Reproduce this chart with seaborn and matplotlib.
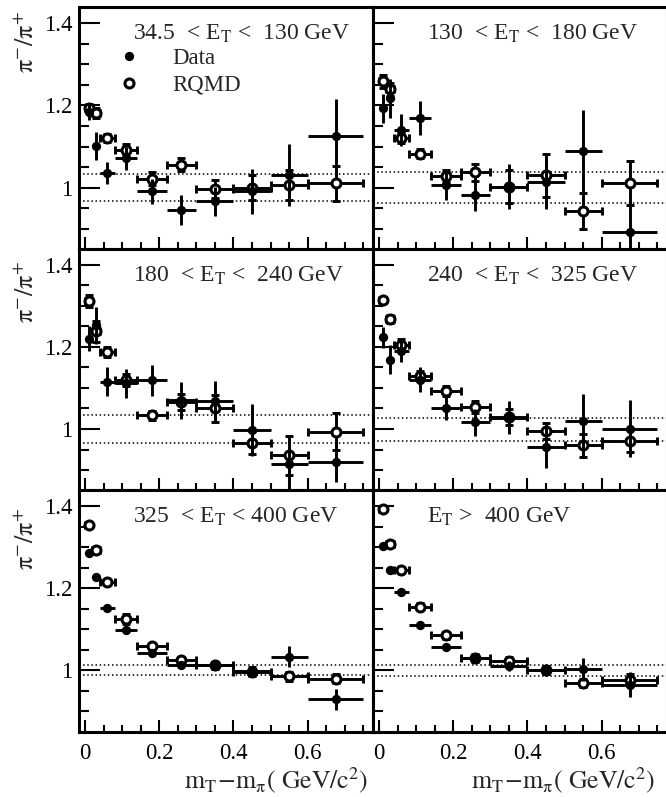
import numpy as np
import pandas as pd
import seaborn as sns
import matplotlib
matplotlib.use("Agg")
import matplotlib.pyplot as plt
from matplotlib.ticker import MultipleLocator, FixedLocator, FixedFormatter
from matplotlib.lines import Line2D

# m_T - m_pi bins (GeV/c^2)
bin_edges = [0.0, 0.02, 0.04, 0.08, 0.14, 0.22, 0.30, 0.40, 0.50, 0.60, 0.75]

panel_titles = [
    r"34.5  < E$_{\mathrm{T}}$ <  130 GeV",
    r"130  < E$_{\mathrm{T}}$ <  180 GeV",
    r"180  < E$_{\mathrm{T}}$ <  240 GeV",
    r"240  < E$_{\mathrm{T}}$ <  325 GeV",
    r"325  < E$_{\mathrm{T}}$ < 400 GeV",
    r"E$_{\mathrm{T}}$ >  400 GeV",
]

# pi-/pi+ ratio, measured
data_y_1 = [1.185, 1.101, 1.036, 1.071, 0.991, 0.945, 0.967, 0.991, 1.030, 1.125]
data_e_1 = [0.020, 0.034, 0.027, 0.028, 0.030, 0.036, 0.035, 0.055, 0.075, 0.090]
data_y_2 = [1.193, 1.217, 1.140, 1.170, 1.007, 0.983, 1.002, 1.014, 1.089, 0.892]
data_e_2 = [0.035, 0.047, 0.039, 0.041, 0.037, 0.040, 0.055, 0.067, 0.100, 0.080]
data_y_3 = [1.220, 1.253, 1.115, 1.111, 1.119, 1.070, 1.068, 0.997, 0.915, 0.920]
data_e_3 = [0.030, 0.045, 0.035, 0.035, 0.038, 0.045, 0.050, 0.063, 0.070, 0.050]
data_y_4 = [1.223, 1.169, 1.190, 1.120, 1.051, 1.016, 1.027, 0.955, 1.019, 1.001]
data_e_4 = [0.025, 0.035, 0.028, 0.030, 0.028, 0.033, 0.040, 0.050, 0.067, 0.070]
data_y_5 = [1.285, 1.227, 1.152, 1.099, 1.042, 1.012, 1.014, 0.998, 1.033, 0.929]
data_e_5 = [0.006, 0.006, 0.006, 0.008, 0.010, 0.008, 0.010, 0.012, 0.025, 0.025]
data_y_6 = [1.302, 1.244, 1.190, 1.111, 1.057, 1.030, 1.011, 1.000, 1.002, 0.965]
data_e_6 = [0.005, 0.008, 0.008, 0.008, 0.008, 0.010, 0.012, 0.015, 0.027, 0.030]

# pi-/pi+ ratio, RQMD model
rqmd_y_1 = [1.193, 1.182, 1.121, 1.091, 1.022, 1.056, 0.996, 1.000, 1.007, 1.010]
rqmd_e_1 = [0.010, 0.012, 0.010, 0.015, 0.015, 0.015, 0.022, 0.030, 0.037, 0.043]
rqmd_y_2 = [1.259, 1.239, 1.120, 1.083, 1.028, 1.037, 1.002, 1.030, 0.943, 1.011]
rqmd_e_2 = [0.016, 0.016, 0.012, 0.012, 0.015, 0.020, 0.040, 0.053, 0.044, 0.054]
rqmd_y_3 = [1.312, 1.238, 1.188, 1.119, 1.033, 1.066, 1.050, 0.967, 0.936, 0.993]
rqmd_e_3 = [0.015, 0.025, 0.012, 0.015, 0.012, 0.020, 0.033, 0.028, 0.047, 0.045]
rqmd_y_4 = [1.314, 1.267, 1.204, 1.129, 1.093, 1.054, 1.029, 0.995, 0.960, 0.971]
rqmd_e_4 = [0.006, 0.010, 0.015, 0.012, 0.012, 0.015, 0.020, 0.020, 0.028, 0.028]
rqmd_y_5 = [1.354, 1.294, 1.215, 1.124, 1.059, 1.024, 1.012, 0.997, 0.985, 0.980]
rqmd_e_5 = [0.005, 0.006, 0.008, 0.012, 0.008, 0.008, 0.008, 0.010, 0.010, 0.010]
rqmd_y_6 = [1.392, 1.307, 1.244, 1.155, 1.085, 1.030, 1.022, 1.000, 0.969, 0.977]
rqmd_e_6 = [0.005, 0.006, 0.008, 0.008, 0.008, 0.010, 0.010, 0.010, 0.010, 0.015]

# half-width of the systematic band around 1
syst_band = [0.032, 0.037, 0.033, 0.028, 0.012, 0.013]

data_y = [data_y_1, data_y_2, data_y_3, data_y_4, data_y_5, data_y_6]
data_e = [data_e_1, data_e_2, data_e_3, data_e_4, data_e_5, data_e_6]
rqmd_y = [rqmd_y_1, rqmd_y_2, rqmd_y_3, rqmd_y_4, rqmd_y_5, rqmd_y_6]
rqmd_e = [rqmd_e_1, rqmd_e_2, rqmd_e_3, rqmd_e_4, rqmd_e_5, rqmd_e_6]

edges = np.array(bin_edges)
x_mid = 0.5 * (edges[:-1] + edges[1:])
x_half = 0.5 * (edges[1:] - edges[:-1])

sns.set_style("ticks")
plt.rcParams["font.family"] = ["Liberation Serif", "DejaVu Serif"]
plt.rcParams["mathtext.fontset"] = "stix"

W, H = 666, 797
fig = plt.figure(figsize=(W / 100, H / 100), dpi=100)

col_left = [79, 373]
pw = 294
row_top = [7.3, 248.7, 490.0]
ph = 241.5

FS = 16.5
ylabel_top = [0.985, 0.95, 0.925]

for i in range(6):
    r, c = divmod(i, 2)
    x0 = col_left[c]
    y0 = row_top[r]
    ax = fig.add_axes([x0 / W, 1 - (y0 + ph) / H, pw / W, ph / H])

    df_d = pd.DataFrame({"x": x_mid, "y": data_y[i], "e": data_e[i]})
    df_r = pd.DataFrame({"x": x_mid, "y": rqmd_y[i], "e": rqmd_e[i]})

    for v in (1 + syst_band[i], 1 - syst_band[i]):
        ax.axhline(v, color="k", lw=1.1, ls=(0, (1, 1.7)), zorder=1)

    # model: error bars with end caps, hollow circles on top of their own bars
    ax.errorbar(df_r["x"], df_r["y"], xerr=x_half, yerr=df_r["e"], fmt="none",
                ecolor="k", elinewidth=2.1, capsize=3.2, capthick=2.1, zorder=2)
    sns.scatterplot(data=df_r, x="x", y="y", ax=ax, marker="o", s=42,
                    facecolors="white", edgecolor="k", linewidth=2.2, zorder=3,
                    legend=False)
    # measurement: plain error bars, filled circles
    ax.errorbar(df_d["x"], df_d["y"], xerr=x_half, yerr=df_d["e"], fmt="none",
                ecolor="k", elinewidth=2.1, capsize=0, zorder=4)
    sns.scatterplot(data=df_d, x="x", y="y", ax=ax, marker="o", s=45,
                    color="k", edgecolor="k", linewidth=0, zorder=5, legend=False)

    ax.set_xlim(-0.016, 0.776)
    ax.set_ylim(0.851, 1.439)
    ax.set_xlabel("")
    ax.set_ylabel("")

    ax.xaxis.set_major_locator(FixedLocator([0, 0.2, 0.4, 0.6]))
    ax.xaxis.set_major_formatter(FixedFormatter(["0", "0.2", "0.4", "0.6"]))
    ax.xaxis.set_minor_locator(MultipleLocator(0.05))
    ax.yaxis.set_major_locator(FixedLocator([1.0, 1.2, 1.4]))
    ax.yaxis.set_major_formatter(FixedFormatter(["1", "1.2", "1.4"]))
    ax.yaxis.set_minor_locator(MultipleLocator(0.05))

    ax.tick_params(which="both", direction="in", top=False, right=False,
                   width=1.5, color="k", labelsize=FS, labelcolor="k")
    ax.tick_params(axis="y", which="major", length=15, pad=5)
    ax.tick_params(axis="y", which="minor", length=7.5)
    ax.tick_params(axis="x", which="major", length=9, pad=8)
    ax.tick_params(axis="x", which="minor", length=5)
    if c == 1:
        ax.tick_params(axis="y", labelleft=False)
    if r < 2:
        ax.tick_params(axis="x", labelbottom=False)

    for sp in ax.spines.values():
        sp.set_linewidth(2.2)
        sp.set_color("k")

    ax.text(0.184, 0.888, panel_titles[i], transform=ax.transAxes,
            ha="left", va="center", fontsize=FS + 0.5)

    if c == 0:
        ax.text(-0.178, ylabel_top[r], r"$\mathrm{π}^{-}/\mathrm{π}^{+}$",
                transform=ax.transAxes, rotation=90, ha="center", va="top",
                fontsize=19)

    if r == 2:
        ax.text(0.983 if c == 0 else 0.959, -0.235,
                r"$\mathrm{m_{T}\!-\!m_{π}(\ GeV/c^{2})}$",
                transform=ax.transAxes, ha="right", va="baseline", fontsize=18.5)

    if i == 0:
        handles = [
            Line2D([], [], ls="none", marker="o", ms=6.7, mfc="k", mec="k", mew=0),
            Line2D([], [], ls="none", marker="o", ms=6.5, mfc="white", mec="k", mew=2.2),
        ]
        ax.legend(handles, ["Data", "RQMD"], loc="upper left",
                  bbox_to_anchor=(0.131, 0.832), frameon=False, fontsize=FS,
                  handlelength=1.0, handletextpad=1.4, labelspacing=0.25,
                  borderpad=0, borderaxespad=0)

fig.savefig("out.png", dpi=100)
